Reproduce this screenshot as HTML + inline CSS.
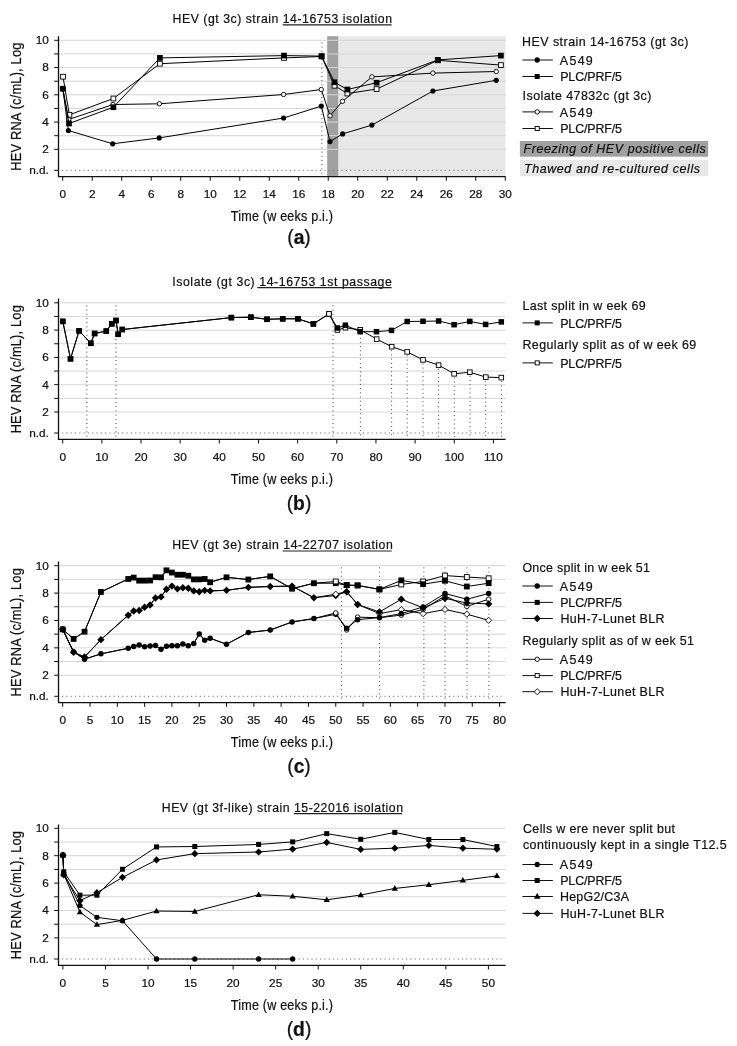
<!DOCTYPE html><html><head><meta charset="utf-8"><style>html,body{margin:0;padding:0;background:#fff;width:737px;height:1046px;overflow:hidden}svg{display:block;will-change:transform}text{font-family:"Liberation Sans", sans-serif;fill:#111;stroke:#111;stroke-width:0.22px}</style></head><body>
<svg width="737" height="1046" viewBox="0 0 737 1046">
<rect x="338.2" y="36.2" width="167.40000000000003" height="140.35000000000002" fill="#e8e8e8"/>
<rect x="327.2" y="36.2" width="11" height="140.35000000000002" fill="#a0a0a0"/>
<line x1="59.2" y1="149.3" x2="505.6" y2="149.3" stroke="#d6d6d6" stroke-width="1"/>
<line x1="59.2" y1="135.68" x2="505.6" y2="135.68" stroke="#d6d6d6" stroke-width="1"/>
<line x1="59.2" y1="122.05" x2="505.6" y2="122.05" stroke="#d6d6d6" stroke-width="1"/>
<line x1="59.2" y1="108.43" x2="505.6" y2="108.43" stroke="#d6d6d6" stroke-width="1"/>
<line x1="59.2" y1="94.8" x2="505.6" y2="94.8" stroke="#d6d6d6" stroke-width="1"/>
<line x1="59.2" y1="81.18" x2="505.6" y2="81.18" stroke="#d6d6d6" stroke-width="1"/>
<line x1="59.2" y1="67.55" x2="505.6" y2="67.55" stroke="#d6d6d6" stroke-width="1"/>
<line x1="59.2" y1="53.93" x2="505.6" y2="53.93" stroke="#d6d6d6" stroke-width="1"/>
<line x1="59.2" y1="40.3" x2="505.6" y2="40.3" stroke="#d6d6d6" stroke-width="1"/>
<line x1="321.9" y1="42.4" x2="321.9" y2="176" stroke="#4a4a4a" stroke-width="1" stroke-dasharray="1 3.2"/>
<path d="M63 76.7 L69.4 114.8 L113.4 98.5 L159.9 63.7 L284 57.9 L321.6 56.5 L334.5 85.7 L347.4 93.5 L376.6 89.1 L437.8 60.3 L500.9 65.1" fill="none" stroke="#000" stroke-width="1.0" stroke-linejoin="round"/>
<rect x="60.6" y="74.3" width="4.8" height="4.8" fill="#fff" stroke="#000" stroke-width="0.9"/>
<rect x="67" y="112.4" width="4.8" height="4.8" fill="#fff" stroke="#000" stroke-width="0.9"/>
<rect x="111" y="96.1" width="4.8" height="4.8" fill="#fff" stroke="#000" stroke-width="0.9"/>
<rect x="157.5" y="61.3" width="4.8" height="4.8" fill="#fff" stroke="#000" stroke-width="0.9"/>
<rect x="281.6" y="55.5" width="4.8" height="4.8" fill="#fff" stroke="#000" stroke-width="0.9"/>
<rect x="319.2" y="54.1" width="4.8" height="4.8" fill="#fff" stroke="#000" stroke-width="0.9"/>
<rect x="332.1" y="83.3" width="4.8" height="4.8" fill="#fff" stroke="#000" stroke-width="0.9"/>
<rect x="345" y="91.1" width="4.8" height="4.8" fill="#fff" stroke="#000" stroke-width="0.9"/>
<rect x="374.2" y="86.7" width="4.8" height="4.8" fill="#fff" stroke="#000" stroke-width="0.9"/>
<rect x="435.4" y="57.9" width="4.8" height="4.8" fill="#fff" stroke="#000" stroke-width="0.9"/>
<rect x="498.5" y="62.7" width="4.8" height="4.8" fill="#fff" stroke="#000" stroke-width="0.9"/>
<path d="M62.8 88.7 L68.7 119.5 L113 104.5 L159.4 103.8 L283.6 94.5 L321.3 89.5 L330 115.8 L342.5 101.3 L371.9 76.9 L432.9 73.1 L496.2 71.5" fill="none" stroke="#000" stroke-width="1.0" stroke-linejoin="round"/>
<circle cx="62.8" cy="88.7" r="2.2" fill="#fff" stroke="#000" stroke-width="0.9"/>
<circle cx="68.7" cy="119.5" r="2.2" fill="#fff" stroke="#000" stroke-width="0.9"/>
<circle cx="113" cy="104.5" r="2.2" fill="#fff" stroke="#000" stroke-width="0.9"/>
<circle cx="159.4" cy="103.8" r="2.2" fill="#fff" stroke="#000" stroke-width="0.9"/>
<circle cx="283.6" cy="94.5" r="2.2" fill="#fff" stroke="#000" stroke-width="0.9"/>
<circle cx="321.3" cy="89.5" r="2.2" fill="#fff" stroke="#000" stroke-width="0.9"/>
<circle cx="330" cy="115.8" r="2.2" fill="#fff" stroke="#000" stroke-width="0.9"/>
<circle cx="342.5" cy="101.3" r="2.2" fill="#fff" stroke="#000" stroke-width="0.9"/>
<circle cx="371.9" cy="76.9" r="2.2" fill="#fff" stroke="#000" stroke-width="0.9"/>
<circle cx="432.9" cy="73.1" r="2.2" fill="#fff" stroke="#000" stroke-width="0.9"/>
<circle cx="496.2" cy="71.5" r="2.2" fill="#fff" stroke="#000" stroke-width="0.9"/>
<path d="M62.8 88.7 L68.4 130.5 L112.7 143.8 L159.2 137.9 L283.6 118 L321.3 106.1 L330 141.6 L342.6 133.9 L371.9 125.1 L432.9 91 L496.2 80.3" fill="none" stroke="#000" stroke-width="1.0" stroke-linejoin="round"/>
<circle cx="62.8" cy="88.7" r="2.6" fill="#000"/>
<circle cx="68.4" cy="130.5" r="2.6" fill="#000"/>
<circle cx="112.7" cy="143.8" r="2.6" fill="#000"/>
<circle cx="159.2" cy="137.9" r="2.6" fill="#000"/>
<circle cx="283.6" cy="118" r="2.6" fill="#000"/>
<circle cx="321.3" cy="106.1" r="2.6" fill="#000"/>
<circle cx="330" cy="141.6" r="2.6" fill="#000"/>
<circle cx="342.6" cy="133.9" r="2.6" fill="#000"/>
<circle cx="371.9" cy="125.1" r="2.6" fill="#000"/>
<circle cx="432.9" cy="91" r="2.6" fill="#000"/>
<circle cx="496.2" cy="80.3" r="2.6" fill="#000"/>
<path d="M62.8 88.7 L69 123.5 L113.4 107.2 L159.9 57.9 L284 55.6 L321.6 56.1 L334.5 82.3 L347.4 89.5 L376.6 82.7 L437.8 59.9 L500.9 55.6" fill="none" stroke="#000" stroke-width="1.0" stroke-linejoin="round"/>
<rect x="59.95" y="85.85" width="5.7" height="5.7" fill="#000"/>
<rect x="66.15" y="120.65" width="5.7" height="5.7" fill="#000"/>
<rect x="110.55" y="104.35" width="5.7" height="5.7" fill="#000"/>
<rect x="157.05" y="55.05" width="5.7" height="5.7" fill="#000"/>
<rect x="281.15" y="52.75" width="5.7" height="5.7" fill="#000"/>
<rect x="318.75" y="53.25" width="5.7" height="5.7" fill="#000"/>
<rect x="331.65" y="79.45" width="5.7" height="5.7" fill="#000"/>
<rect x="344.55" y="86.65" width="5.7" height="5.7" fill="#000"/>
<rect x="373.75" y="79.85" width="5.7" height="5.7" fill="#000"/>
<rect x="434.95" y="57.05" width="5.7" height="5.7" fill="#000"/>
<rect x="498.05" y="52.75" width="5.7" height="5.7" fill="#000"/>
<line x1="62.0" y1="170.28" x2="501.6" y2="170.28" stroke="#777" stroke-width="1" stroke-dasharray="1.2 3.1"/>
<path d="M58.5 36.2 V176.55 H505.6" fill="none" stroke="#111" stroke-width="1.3"/>
<line x1="54.2" y1="149.3" x2="58.5" y2="149.3" stroke="#111" stroke-width="1"/>
<line x1="54.2" y1="135.68" x2="58.5" y2="135.68" stroke="#111" stroke-width="1"/>
<line x1="54.2" y1="122.05" x2="58.5" y2="122.05" stroke="#111" stroke-width="1"/>
<line x1="54.2" y1="108.43" x2="58.5" y2="108.43" stroke="#111" stroke-width="1"/>
<line x1="54.2" y1="94.8" x2="58.5" y2="94.8" stroke="#111" stroke-width="1"/>
<line x1="54.2" y1="81.18" x2="58.5" y2="81.18" stroke="#111" stroke-width="1"/>
<line x1="54.2" y1="67.55" x2="58.5" y2="67.55" stroke="#111" stroke-width="1"/>
<line x1="54.2" y1="53.93" x2="58.5" y2="53.93" stroke="#111" stroke-width="1"/>
<line x1="54.2" y1="40.3" x2="58.5" y2="40.3" stroke="#111" stroke-width="1"/>
<line x1="54.2" y1="170.28" x2="58.5" y2="170.28" stroke="#111" stroke-width="1"/>
<text x="48.9" y="44.1" text-anchor="end" font-size="11.8">10</text>
<text x="48.9" y="71.35" text-anchor="end" font-size="11.8">8</text>
<text x="48.9" y="98.6" text-anchor="end" font-size="11.8">6</text>
<text x="48.9" y="125.85" text-anchor="end" font-size="11.8">4</text>
<text x="48.9" y="153.1" text-anchor="end" font-size="11.8">2</text>
<text x="48.9" y="174.08" text-anchor="end" font-size="11.8">n.d.</text>
<line x1="62.7" y1="176.55" x2="62.7" y2="180.75" stroke="#111" stroke-width="1"/>
<text x="62.7" y="197.85" text-anchor="middle" font-size="11.8">0</text>
<line x1="92.21" y1="176.55" x2="92.21" y2="180.75" stroke="#111" stroke-width="1"/>
<text x="92.21" y="197.85" text-anchor="middle" font-size="11.8">2</text>
<line x1="121.71" y1="176.55" x2="121.71" y2="180.75" stroke="#111" stroke-width="1"/>
<text x="121.71" y="197.85" text-anchor="middle" font-size="11.8">4</text>
<line x1="151.22" y1="176.55" x2="151.22" y2="180.75" stroke="#111" stroke-width="1"/>
<text x="151.22" y="197.85" text-anchor="middle" font-size="11.8">6</text>
<line x1="180.72" y1="176.55" x2="180.72" y2="180.75" stroke="#111" stroke-width="1"/>
<text x="180.72" y="197.85" text-anchor="middle" font-size="11.8">8</text>
<line x1="210.23" y1="176.55" x2="210.23" y2="180.75" stroke="#111" stroke-width="1"/>
<text x="210.23" y="197.85" text-anchor="middle" font-size="11.8">10</text>
<line x1="239.74" y1="176.55" x2="239.74" y2="180.75" stroke="#111" stroke-width="1"/>
<text x="239.74" y="197.85" text-anchor="middle" font-size="11.8">12</text>
<line x1="269.24" y1="176.55" x2="269.24" y2="180.75" stroke="#111" stroke-width="1"/>
<text x="269.24" y="197.85" text-anchor="middle" font-size="11.8">14</text>
<line x1="298.75" y1="176.55" x2="298.75" y2="180.75" stroke="#111" stroke-width="1"/>
<text x="298.75" y="197.85" text-anchor="middle" font-size="11.8">16</text>
<line x1="328.25" y1="176.55" x2="328.25" y2="180.75" stroke="#111" stroke-width="1"/>
<text x="328.25" y="197.85" text-anchor="middle" font-size="11.8">18</text>
<line x1="357.76" y1="176.55" x2="357.76" y2="180.75" stroke="#111" stroke-width="1"/>
<text x="357.76" y="197.85" text-anchor="middle" font-size="11.8">20</text>
<line x1="387.27" y1="176.55" x2="387.27" y2="180.75" stroke="#111" stroke-width="1"/>
<text x="387.27" y="197.85" text-anchor="middle" font-size="11.8">22</text>
<line x1="416.77" y1="176.55" x2="416.77" y2="180.75" stroke="#111" stroke-width="1"/>
<text x="416.77" y="197.85" text-anchor="middle" font-size="11.8">24</text>
<line x1="446.28" y1="176.55" x2="446.28" y2="180.75" stroke="#111" stroke-width="1"/>
<text x="446.28" y="197.85" text-anchor="middle" font-size="11.8">26</text>
<line x1="475.78" y1="176.55" x2="475.78" y2="180.75" stroke="#111" stroke-width="1"/>
<text x="475.78" y="197.85" text-anchor="middle" font-size="11.8">28</text>
<line x1="505.29" y1="176.55" x2="505.29" y2="180.75" stroke="#111" stroke-width="1"/>
<text x="505.29" y="197.85" text-anchor="middle" font-size="11.8">30</text>
<text transform="translate(20.8 170.78) rotate(-90) scale(0.9 1)" font-size="14.3" textLength="142.44" lengthAdjust="spacing">HEV RNA (c/mL), Log</text>
<text transform="translate(230.8 221.4) scale(0.9 1)" font-size="14.0" textLength="113.56" lengthAdjust="spacing">Time (w eeks p.i.)</text>
<text transform="translate(172.6 22.8) scale(0.93 1)" font-size="13.2" textLength="235.91" lengthAdjust="spacing">HEV (gt 3c) strain 14-16753 isolation</text>
<line x1="282.7" y1="24.9" x2="391.6" y2="24.9" stroke="#222" stroke-width="1.15"/>
<text x="299" y="243.85" text-anchor="middle" font-size="19.3">(<tspan font-weight="bold">a</tspan>)</text>
<text transform="translate(522 46.2) scale(0.93 1)" font-size="13.4" textLength="178.92" lengthAdjust="spacing">HEV strain 14-16753 (gt 3c)</text>
<line x1="522.4" y1="60" x2="552.8" y2="60" stroke="#111" stroke-width="1"/>
<circle cx="537.2" cy="60" r="2.65" fill="#000"/>
<text transform="translate(559.8 64.6) scale(0.93 1)" font-size="13.4" textLength="35.48" lengthAdjust="spacing">A549</text>
<line x1="522.4" y1="76.5" x2="552.8" y2="76.5" stroke="#111" stroke-width="1"/>
<rect x="534.7" y="74" width="5" height="5" fill="#000"/>
<text transform="translate(560.2 81.1) scale(0.93 1)" font-size="13.4" textLength="66.45" lengthAdjust="spacing">PLC/PRF/5</text>
<text transform="translate(522.6 100) scale(0.93 1)" font-size="13.4" textLength="138.49" lengthAdjust="spacing">Isolate 47832c (gt 3c)</text>
<line x1="522.4" y1="111.9" x2="552.8" y2="111.9" stroke="#111" stroke-width="1"/>
<circle cx="537.2" cy="111.9" r="2.2" fill="#fff" stroke="#000" stroke-width="0.9"/>
<text transform="translate(559.8 116.5) scale(0.93 1)" font-size="13.4" textLength="35.48" lengthAdjust="spacing">A549</text>
<line x1="522.4" y1="128.5" x2="552.8" y2="128.5" stroke="#111" stroke-width="1"/>
<rect x="535.15" y="126.45" width="4.1" height="4.1" fill="#fff" stroke="#000" stroke-width="0.9"/>
<text transform="translate(560.2 133.1) scale(0.93 1)" font-size="13.4" textLength="66.45" lengthAdjust="spacing">PLC/PRF/5</text>
<rect x="519.9" y="141" width="188.3" height="15.7" fill="#a0a0a0"/>
<rect x="519.9" y="160" width="188.3" height="16.2" fill="#e8e8e8"/>
<text transform="translate(523.6 152.9) scale(0.93 1)" font-size="13.4" textLength="195.91" lengthAdjust="spacing" font-style="italic">Freezing of HEV positive cells</text>
<text transform="translate(524 173) scale(0.93 1)" font-size="13.4" textLength="189.25" lengthAdjust="spacing" font-style="italic">Thawed and re-cultured cells</text>
<line x1="59.2" y1="412" x2="505.6" y2="412" stroke="#d6d6d6" stroke-width="1"/>
<line x1="59.2" y1="398.35" x2="505.6" y2="398.35" stroke="#d6d6d6" stroke-width="1"/>
<line x1="59.2" y1="384.7" x2="505.6" y2="384.7" stroke="#d6d6d6" stroke-width="1"/>
<line x1="59.2" y1="371.05" x2="505.6" y2="371.05" stroke="#d6d6d6" stroke-width="1"/>
<line x1="59.2" y1="357.4" x2="505.6" y2="357.4" stroke="#d6d6d6" stroke-width="1"/>
<line x1="59.2" y1="343.75" x2="505.6" y2="343.75" stroke="#d6d6d6" stroke-width="1"/>
<line x1="59.2" y1="330.1" x2="505.6" y2="330.1" stroke="#d6d6d6" stroke-width="1"/>
<line x1="59.2" y1="316.45" x2="505.6" y2="316.45" stroke="#d6d6d6" stroke-width="1"/>
<line x1="59.2" y1="302.8" x2="505.6" y2="302.8" stroke="#d6d6d6" stroke-width="1"/>
<line x1="86.9" y1="305.4" x2="86.9" y2="438.6" stroke="#4a4a4a" stroke-width="1" stroke-dasharray="1 3.2"/>
<line x1="116.0" y1="305.4" x2="116.0" y2="438.6" stroke="#4a4a4a" stroke-width="1" stroke-dasharray="1 3.2"/>
<line x1="333.0" y1="305.4" x2="333.0" y2="438.6" stroke="#4a4a4a" stroke-width="1" stroke-dasharray="1 3.2"/>
<line x1="360.4" y1="333.5" x2="360.4" y2="438.6" stroke="#4a4a4a" stroke-width="1" stroke-dasharray="1 3.2"/>
<line x1="391.6" y1="350.2" x2="391.6" y2="438.6" stroke="#4a4a4a" stroke-width="1" stroke-dasharray="1 3.2"/>
<line x1="407.2" y1="355.3" x2="407.2" y2="438.6" stroke="#4a4a4a" stroke-width="1" stroke-dasharray="1 3.2"/>
<line x1="423.0" y1="363.4" x2="423.0" y2="438.6" stroke="#4a4a4a" stroke-width="1" stroke-dasharray="1 3.2"/>
<line x1="438.6" y1="368.6" x2="438.6" y2="438.6" stroke="#4a4a4a" stroke-width="1" stroke-dasharray="1 3.2"/>
<line x1="454.3" y1="377.3" x2="454.3" y2="438.6" stroke="#4a4a4a" stroke-width="1" stroke-dasharray="1 3.2"/>
<line x1="470.0" y1="375.7" x2="470.0" y2="438.6" stroke="#4a4a4a" stroke-width="1" stroke-dasharray="1 3.2"/>
<line x1="485.7" y1="380.6" x2="485.7" y2="438.6" stroke="#4a4a4a" stroke-width="1" stroke-dasharray="1 3.2"/>
<line x1="501.4" y1="381.1" x2="501.4" y2="438.6" stroke="#4a4a4a" stroke-width="1" stroke-dasharray="1 3.2"/>
<path d="M62.8 321.4 L70.5 358.8 L79.1 330.8 L90.8 343.3 L94.6 333.5 L106.3 331.1 L111.8 323.8 L116 320.5 L118.2 334.3 L122.3 329.5 L231.4 317.6 L250.9 317.2 L267 319.3 L282.7 318.8 L297.9 318.8 L313.4 323.9 L329 313.9 L337.4 330 L345.4 327.7 L360.2 329.8 L376.7 339.1 L391.7 346.7 L407.2 351.9 L423 359.9 L438.6 365.1 L454.1 373.8 L469.8 372.2 L485.8 377.1 L501.3 377.6" fill="none" stroke="#000" stroke-width="1.0" stroke-linejoin="round"/>
<rect x="60.5" y="319.1" width="4.6" height="4.6" fill="#fff" stroke="#000" stroke-width="0.9"/>
<rect x="68.2" y="356.5" width="4.6" height="4.6" fill="#fff" stroke="#000" stroke-width="0.9"/>
<rect x="76.8" y="328.5" width="4.6" height="4.6" fill="#fff" stroke="#000" stroke-width="0.9"/>
<rect x="88.5" y="341" width="4.6" height="4.6" fill="#fff" stroke="#000" stroke-width="0.9"/>
<rect x="92.3" y="331.2" width="4.6" height="4.6" fill="#fff" stroke="#000" stroke-width="0.9"/>
<rect x="104" y="328.8" width="4.6" height="4.6" fill="#fff" stroke="#000" stroke-width="0.9"/>
<rect x="109.5" y="321.5" width="4.6" height="4.6" fill="#fff" stroke="#000" stroke-width="0.9"/>
<rect x="113.7" y="318.2" width="4.6" height="4.6" fill="#fff" stroke="#000" stroke-width="0.9"/>
<rect x="115.9" y="332" width="4.6" height="4.6" fill="#fff" stroke="#000" stroke-width="0.9"/>
<rect x="120" y="327.2" width="4.6" height="4.6" fill="#fff" stroke="#000" stroke-width="0.9"/>
<rect x="229.1" y="315.3" width="4.6" height="4.6" fill="#fff" stroke="#000" stroke-width="0.9"/>
<rect x="248.6" y="314.9" width="4.6" height="4.6" fill="#fff" stroke="#000" stroke-width="0.9"/>
<rect x="264.7" y="317" width="4.6" height="4.6" fill="#fff" stroke="#000" stroke-width="0.9"/>
<rect x="280.4" y="316.5" width="4.6" height="4.6" fill="#fff" stroke="#000" stroke-width="0.9"/>
<rect x="295.6" y="316.5" width="4.6" height="4.6" fill="#fff" stroke="#000" stroke-width="0.9"/>
<rect x="311.1" y="321.6" width="4.6" height="4.6" fill="#fff" stroke="#000" stroke-width="0.9"/>
<rect x="326.7" y="311.6" width="4.6" height="4.6" fill="#fff" stroke="#000" stroke-width="0.9"/>
<rect x="335.1" y="327.7" width="4.6" height="4.6" fill="#fff" stroke="#000" stroke-width="0.9"/>
<rect x="343.1" y="325.4" width="4.6" height="4.6" fill="#fff" stroke="#000" stroke-width="0.9"/>
<rect x="357.9" y="327.5" width="4.6" height="4.6" fill="#fff" stroke="#000" stroke-width="0.9"/>
<rect x="374.4" y="336.8" width="4.6" height="4.6" fill="#fff" stroke="#000" stroke-width="0.9"/>
<rect x="389.4" y="344.4" width="4.6" height="4.6" fill="#fff" stroke="#000" stroke-width="0.9"/>
<rect x="404.9" y="349.6" width="4.6" height="4.6" fill="#fff" stroke="#000" stroke-width="0.9"/>
<rect x="420.7" y="357.6" width="4.6" height="4.6" fill="#fff" stroke="#000" stroke-width="0.9"/>
<rect x="436.3" y="362.8" width="4.6" height="4.6" fill="#fff" stroke="#000" stroke-width="0.9"/>
<rect x="451.8" y="371.5" width="4.6" height="4.6" fill="#fff" stroke="#000" stroke-width="0.9"/>
<rect x="467.5" y="369.9" width="4.6" height="4.6" fill="#fff" stroke="#000" stroke-width="0.9"/>
<rect x="483.5" y="374.8" width="4.6" height="4.6" fill="#fff" stroke="#000" stroke-width="0.9"/>
<rect x="499" y="375.3" width="4.6" height="4.6" fill="#fff" stroke="#000" stroke-width="0.9"/>
<path d="M62.8 321.4 L70.5 358.8 L79.1 330.8 L90.8 343.3 L94.6 333.5 L106.3 331.1 L111.8 323.8 L116 320.5 L118.2 334.3 L122.3 329.5 L231.4 317.6 L250.9 317.2 L267 319.3 L282.7 318.8 L297.9 318.8 L313.4 323.9 L329 313.9 L337.4 328 L345.4 325.2 L360.2 331.7 L376.5 331.7 L391.5 330.4 L407.2 321.5 L423 321.3 L438.6 321 L454.1 324.7 L469.8 321.4 L485.6 324.4 L501.3 321.9" fill="none" stroke="#000" stroke-width="1.0" stroke-linejoin="round"/>
<rect x="60.05" y="318.65" width="5.5" height="5.5" fill="#000"/>
<rect x="67.75" y="356.05" width="5.5" height="5.5" fill="#000"/>
<rect x="76.35" y="328.05" width="5.5" height="5.5" fill="#000"/>
<rect x="88.05" y="340.55" width="5.5" height="5.5" fill="#000"/>
<rect x="91.85" y="330.75" width="5.5" height="5.5" fill="#000"/>
<rect x="103.55" y="328.35" width="5.5" height="5.5" fill="#000"/>
<rect x="109.05" y="321.05" width="5.5" height="5.5" fill="#000"/>
<rect x="113.25" y="317.75" width="5.5" height="5.5" fill="#000"/>
<rect x="115.45" y="331.55" width="5.5" height="5.5" fill="#000"/>
<rect x="119.55" y="326.75" width="5.5" height="5.5" fill="#000"/>
<rect x="228.65" y="314.85" width="5.5" height="5.5" fill="#000"/>
<rect x="248.15" y="314.45" width="5.5" height="5.5" fill="#000"/>
<rect x="264.25" y="316.55" width="5.5" height="5.5" fill="#000"/>
<rect x="279.95" y="316.05" width="5.5" height="5.5" fill="#000"/>
<rect x="295.15" y="316.05" width="5.5" height="5.5" fill="#000"/>
<rect x="310.65" y="321.15" width="5.5" height="5.5" fill="#000"/>
<rect x="334.65" y="325.25" width="5.5" height="5.5" fill="#000"/>
<rect x="342.65" y="322.45" width="5.5" height="5.5" fill="#000"/>
<rect x="357.45" y="328.95" width="5.5" height="5.5" fill="#000"/>
<rect x="373.75" y="328.95" width="5.5" height="5.5" fill="#000"/>
<rect x="388.75" y="327.65" width="5.5" height="5.5" fill="#000"/>
<rect x="404.45" y="318.75" width="5.5" height="5.5" fill="#000"/>
<rect x="420.25" y="318.55" width="5.5" height="5.5" fill="#000"/>
<rect x="435.85" y="318.25" width="5.5" height="5.5" fill="#000"/>
<rect x="451.35" y="321.95" width="5.5" height="5.5" fill="#000"/>
<rect x="467.05" y="318.65" width="5.5" height="5.5" fill="#000"/>
<rect x="482.85" y="321.65" width="5.5" height="5.5" fill="#000"/>
<rect x="498.55" y="319.15" width="5.5" height="5.5" fill="#000"/>
<rect x="326.7" y="311.6" width="4.6" height="4.6" fill="#fff" stroke="#000" stroke-width="0.9"/>
<line x1="62.0" y1="433.02" x2="501.6" y2="433.02" stroke="#777" stroke-width="1" stroke-dasharray="1.2 3.1"/>
<path d="M58.5 298.6 V439.3 H505.6" fill="none" stroke="#111" stroke-width="1.3"/>
<line x1="54.2" y1="412" x2="58.5" y2="412" stroke="#111" stroke-width="1"/>
<line x1="54.2" y1="398.35" x2="58.5" y2="398.35" stroke="#111" stroke-width="1"/>
<line x1="54.2" y1="384.7" x2="58.5" y2="384.7" stroke="#111" stroke-width="1"/>
<line x1="54.2" y1="371.05" x2="58.5" y2="371.05" stroke="#111" stroke-width="1"/>
<line x1="54.2" y1="357.4" x2="58.5" y2="357.4" stroke="#111" stroke-width="1"/>
<line x1="54.2" y1="343.75" x2="58.5" y2="343.75" stroke="#111" stroke-width="1"/>
<line x1="54.2" y1="330.1" x2="58.5" y2="330.1" stroke="#111" stroke-width="1"/>
<line x1="54.2" y1="316.45" x2="58.5" y2="316.45" stroke="#111" stroke-width="1"/>
<line x1="54.2" y1="302.8" x2="58.5" y2="302.8" stroke="#111" stroke-width="1"/>
<line x1="54.2" y1="433.02" x2="58.5" y2="433.02" stroke="#111" stroke-width="1"/>
<text x="48.9" y="306.6" text-anchor="end" font-size="11.8">10</text>
<text x="48.9" y="333.9" text-anchor="end" font-size="11.8">8</text>
<text x="48.9" y="361.2" text-anchor="end" font-size="11.8">6</text>
<text x="48.9" y="388.5" text-anchor="end" font-size="11.8">4</text>
<text x="48.9" y="415.8" text-anchor="end" font-size="11.8">2</text>
<text x="48.9" y="436.82" text-anchor="end" font-size="11.8">n.d.</text>
<line x1="62.7" y1="439.3" x2="62.7" y2="443.5" stroke="#111" stroke-width="1"/>
<text x="62.7" y="460.6" text-anchor="middle" font-size="11.8">0</text>
<line x1="101.86" y1="439.3" x2="101.86" y2="443.5" stroke="#111" stroke-width="1"/>
<text x="101.86" y="460.6" text-anchor="middle" font-size="11.8">10</text>
<line x1="141.01" y1="439.3" x2="141.01" y2="443.5" stroke="#111" stroke-width="1"/>
<text x="141.01" y="460.6" text-anchor="middle" font-size="11.8">20</text>
<line x1="180.17" y1="439.3" x2="180.17" y2="443.5" stroke="#111" stroke-width="1"/>
<text x="180.17" y="460.6" text-anchor="middle" font-size="11.8">30</text>
<line x1="219.32" y1="439.3" x2="219.32" y2="443.5" stroke="#111" stroke-width="1"/>
<text x="219.32" y="460.6" text-anchor="middle" font-size="11.8">40</text>
<line x1="258.48" y1="439.3" x2="258.48" y2="443.5" stroke="#111" stroke-width="1"/>
<text x="258.48" y="460.6" text-anchor="middle" font-size="11.8">50</text>
<line x1="297.63" y1="439.3" x2="297.63" y2="443.5" stroke="#111" stroke-width="1"/>
<text x="297.63" y="460.6" text-anchor="middle" font-size="11.8">60</text>
<line x1="336.79" y1="439.3" x2="336.79" y2="443.5" stroke="#111" stroke-width="1"/>
<text x="336.79" y="460.6" text-anchor="middle" font-size="11.8">70</text>
<line x1="375.94" y1="439.3" x2="375.94" y2="443.5" stroke="#111" stroke-width="1"/>
<text x="375.94" y="460.6" text-anchor="middle" font-size="11.8">80</text>
<line x1="415.1" y1="439.3" x2="415.1" y2="443.5" stroke="#111" stroke-width="1"/>
<text x="415.1" y="460.6" text-anchor="middle" font-size="11.8">90</text>
<line x1="454.25" y1="439.3" x2="454.25" y2="443.5" stroke="#111" stroke-width="1"/>
<text x="454.25" y="460.6" text-anchor="middle" font-size="11.8">100</text>
<line x1="493.41" y1="439.3" x2="493.41" y2="443.5" stroke="#111" stroke-width="1"/>
<text x="493.41" y="460.6" text-anchor="middle" font-size="11.8">110</text>
<text transform="translate(20.8 433.35) rotate(-90) scale(0.9 1)" font-size="14.3" textLength="142.44" lengthAdjust="spacing">HEV RNA (c/mL), Log</text>
<text transform="translate(230.8 484.15) scale(0.9 1)" font-size="14.0" textLength="113.56" lengthAdjust="spacing">Time (w eeks p.i.)</text>
<text transform="translate(172.2 285.55) scale(0.93 1)" font-size="13.2" textLength="236.13" lengthAdjust="spacing">Isolate (gt 3c) 14-16753 1st passage</text>
<line x1="257.3" y1="287.65" x2="391.6" y2="287.65" stroke="#222" stroke-width="1.15"/>
<text x="299" y="509.8" text-anchor="middle" font-size="19.3">(<tspan font-weight="bold">b</tspan>)</text>
<text transform="translate(522.4 309.5) scale(0.93 1)" font-size="13.4" textLength="132.47" lengthAdjust="spacing">Last split in w eek 69</text>
<line x1="522.4" y1="322.9" x2="552.8" y2="322.9" stroke="#111" stroke-width="1"/>
<rect x="534.7" y="320.4" width="5" height="5" fill="#000"/>
<text transform="translate(560.2 327.5) scale(0.93 1)" font-size="13.4" textLength="66.45" lengthAdjust="spacing">PLC/PRF/5</text>
<text transform="translate(522.4 349) scale(0.93 1)" font-size="13.4" textLength="186.88" lengthAdjust="spacing">Regularly split as of w eek 69</text>
<line x1="522.4" y1="362.9" x2="552.8" y2="362.9" stroke="#111" stroke-width="1"/>
<rect x="535.15" y="360.85" width="4.1" height="4.1" fill="#fff" stroke="#000" stroke-width="0.9"/>
<text transform="translate(560.2 367.5) scale(0.93 1)" font-size="13.4" textLength="66.45" lengthAdjust="spacing">PLC/PRF/5</text>
<line x1="59.2" y1="675.22" x2="505.6" y2="675.22" stroke="#d6d6d6" stroke-width="1"/>
<line x1="59.2" y1="661.53" x2="505.6" y2="661.53" stroke="#d6d6d6" stroke-width="1"/>
<line x1="59.2" y1="647.84" x2="505.6" y2="647.84" stroke="#d6d6d6" stroke-width="1"/>
<line x1="59.2" y1="634.15" x2="505.6" y2="634.15" stroke="#d6d6d6" stroke-width="1"/>
<line x1="59.2" y1="620.46" x2="505.6" y2="620.46" stroke="#d6d6d6" stroke-width="1"/>
<line x1="59.2" y1="606.77" x2="505.6" y2="606.77" stroke="#d6d6d6" stroke-width="1"/>
<line x1="59.2" y1="593.08" x2="505.6" y2="593.08" stroke="#d6d6d6" stroke-width="1"/>
<line x1="59.2" y1="579.39" x2="505.6" y2="579.39" stroke="#d6d6d6" stroke-width="1"/>
<line x1="59.2" y1="565.7" x2="505.6" y2="565.7" stroke="#d6d6d6" stroke-width="1"/>
<line x1="341.4" y1="567.4" x2="341.4" y2="701.8" stroke="#4a4a4a" stroke-width="1" stroke-dasharray="1 3.2"/>
<line x1="379.6" y1="567.4" x2="379.6" y2="701.8" stroke="#4a4a4a" stroke-width="1" stroke-dasharray="1 3.2"/>
<line x1="423.9" y1="567.4" x2="423.9" y2="701.8" stroke="#4a4a4a" stroke-width="1" stroke-dasharray="1 3.2"/>
<line x1="445.0" y1="567.4" x2="445.0" y2="701.8" stroke="#4a4a4a" stroke-width="1" stroke-dasharray="1 3.2"/>
<line x1="467.0" y1="567.4" x2="467.0" y2="701.8" stroke="#4a4a4a" stroke-width="1" stroke-dasharray="1 3.2"/>
<line x1="488.9" y1="567.4" x2="488.9" y2="701.8" stroke="#4a4a4a" stroke-width="1" stroke-dasharray="1 3.2"/>
<path d="M62.7 629.36 L73.62 638.94 L84.54 631.69 L100.93 591.98 L128.23 578.98 L133.69 577.61 L139.15 580.62 L144.62 580.62 L150.08 580.49 L155.54 577.2 L161 577.34 L166.46 570.35 L171.92 572.55 L177.38 574.74 L182.84 574.74 L188.3 575.69 L193.76 579.39 L199.23 579.39 L204.69 578.98 L210.15 582.26 L226.53 577.34 L248.37 579.53 L270.22 576.38 L292.06 588.7 L313.91 583.22 L335.75 581.44 L346.67 585.14 L357.59 585.41 L379.44 589.38 L401.28 584.46 L423.13 581.44 L444.97 575.56 L466.81 577.06 L488.66 578.29" fill="none" stroke="#000" stroke-width="1.0" stroke-linejoin="round"/>
<rect x="344.22" y="582.69" width="4.9" height="4.9" fill="#fff" stroke="#000" stroke-width="0.9"/>
<rect x="355.14" y="582.96" width="4.9" height="4.9" fill="#fff" stroke="#000" stroke-width="0.9"/>
<rect x="376.99" y="586.93" width="4.9" height="4.9" fill="#fff" stroke="#000" stroke-width="0.9"/>
<rect x="398.83" y="582.01" width="4.9" height="4.9" fill="#fff" stroke="#000" stroke-width="0.9"/>
<rect x="420.68" y="578.99" width="4.9" height="4.9" fill="#fff" stroke="#000" stroke-width="0.9"/>
<rect x="442.52" y="573.11" width="4.9" height="4.9" fill="#fff" stroke="#000" stroke-width="0.9"/>
<rect x="464.36" y="574.61" width="4.9" height="4.9" fill="#fff" stroke="#000" stroke-width="0.9"/>
<rect x="486.21" y="575.84" width="4.9" height="4.9" fill="#fff" stroke="#000" stroke-width="0.9"/>
<path d="M62.7 629.36 L73.62 652.22 L84.54 657.01 L100.93 639.63 L128.23 615.26 L133.69 611.01 L139.15 610.47 L144.62 607.18 L150.08 604.99 L155.54 598.01 L161 596.91 L166.46 589.25 L171.92 586.1 L177.38 588.84 L182.84 587.74 L188.3 588.29 L193.76 590.89 L199.23 591.71 L204.69 590.34 L210.15 590.89 L226.53 590.34 L248.37 587.33 L270.22 586.51 L292.06 586.1 L313.91 597.73 L335.75 594.18 L346.67 591.71 L357.59 604.44 L379.44 613.62 L401.28 609.64 L423.13 613.62 L444.97 609.51 L466.81 614.16 L488.66 620.32" fill="none" stroke="#000" stroke-width="1.0" stroke-linejoin="round"/>
<path d="M346.67 588.61L349.77 591.71L346.67 594.81L343.57 591.71Z" fill="#fff" stroke="#000" stroke-width="0.9"/>
<path d="M357.59 601.34L360.69 604.44L357.59 607.54L354.49 604.44Z" fill="#fff" stroke="#000" stroke-width="0.9"/>
<path d="M379.44 610.51L382.54 613.62L379.44 616.72L376.34 613.62Z" fill="#fff" stroke="#000" stroke-width="0.9"/>
<path d="M401.28 606.54L404.38 609.64L401.28 612.74L398.18 609.64Z" fill="#fff" stroke="#000" stroke-width="0.9"/>
<path d="M423.13 610.51L426.23 613.62L423.13 616.72L420.03 613.62Z" fill="#fff" stroke="#000" stroke-width="0.9"/>
<path d="M444.97 606.41L448.07 609.51L444.97 612.61L441.87 609.51Z" fill="#fff" stroke="#000" stroke-width="0.9"/>
<path d="M466.81 611.06L469.91 614.16L466.81 617.26L463.71 614.16Z" fill="#fff" stroke="#000" stroke-width="0.9"/>
<path d="M488.66 617.22L491.76 620.32L488.66 623.42L485.56 620.32Z" fill="#fff" stroke="#000" stroke-width="0.9"/>
<path d="M62.7 629.36 L73.62 651.95 L84.54 659.2 L100.93 653.86 L128.23 648.25 L133.69 646.47 L139.15 645.1 L144.62 646.74 L150.08 645.92 L155.54 645.38 L161 649.35 L166.46 646.2 L171.92 645.79 L177.38 645.79 L182.84 644.01 L188.3 645.79 L193.76 643.6 L199.23 633.88 L204.69 640.31 L210.15 638.26 L226.53 644.28 L248.37 632.51 L270.22 630.04 L292.06 621.97 L313.91 618.54 L335.75 612.93 L346.67 629.91 L357.59 617.17 L379.44 617.72 L401.28 615.12 L423.13 609.51 L444.97 595.82 L466.81 606.36 L488.66 599.24" fill="none" stroke="#000" stroke-width="1.0" stroke-linejoin="round"/>
<circle cx="346.67" cy="629.91" r="2.3" fill="#fff" stroke="#000" stroke-width="0.9"/>
<circle cx="357.59" cy="617.17" r="2.3" fill="#fff" stroke="#000" stroke-width="0.9"/>
<circle cx="379.44" cy="617.72" r="2.3" fill="#fff" stroke="#000" stroke-width="0.9"/>
<circle cx="401.28" cy="615.12" r="2.3" fill="#fff" stroke="#000" stroke-width="0.9"/>
<circle cx="423.13" cy="609.51" r="2.3" fill="#fff" stroke="#000" stroke-width="0.9"/>
<circle cx="444.97" cy="595.82" r="2.3" fill="#fff" stroke="#000" stroke-width="0.9"/>
<circle cx="466.81" cy="606.36" r="2.3" fill="#fff" stroke="#000" stroke-width="0.9"/>
<circle cx="488.66" cy="599.24" r="2.3" fill="#fff" stroke="#000" stroke-width="0.9"/>
<path d="M62.7 629.36 L73.62 638.94 L84.54 631.69 L100.93 591.98 L128.23 578.98 L133.69 577.61 L139.15 580.62 L144.62 580.62 L150.08 580.49 L155.54 577.2 L161 577.34 L166.46 570.35 L171.92 572.55 L177.38 574.74 L182.84 574.74 L188.3 575.69 L193.76 579.39 L199.23 579.39 L204.69 578.98 L210.15 582.26 L226.53 577.34 L248.37 579.53 L270.22 576.38 L292.06 588.7 L313.91 583.22 L335.75 583.22 L346.67 585.14 L357.59 585.41 L379.44 589.38 L401.28 580.35 L423.13 584.18 L444.97 580.76 L466.81 586.51 L488.66 583.22" fill="none" stroke="#000" stroke-width="1.0" stroke-linejoin="round"/>
<rect x="59.8" y="626.46" width="5.8" height="5.8" fill="#000"/>
<rect x="70.72" y="636.04" width="5.8" height="5.8" fill="#000"/>
<rect x="81.64" y="628.79" width="5.8" height="5.8" fill="#000"/>
<rect x="98.03" y="589.08" width="5.8" height="5.8" fill="#000"/>
<rect x="125.33" y="576.08" width="5.8" height="5.8" fill="#000"/>
<rect x="130.79" y="574.71" width="5.8" height="5.8" fill="#000"/>
<rect x="136.25" y="577.72" width="5.8" height="5.8" fill="#000"/>
<rect x="141.72" y="577.72" width="5.8" height="5.8" fill="#000"/>
<rect x="147.18" y="577.59" width="5.8" height="5.8" fill="#000"/>
<rect x="152.64" y="574.3" width="5.8" height="5.8" fill="#000"/>
<rect x="158.1" y="574.44" width="5.8" height="5.8" fill="#000"/>
<rect x="163.56" y="567.45" width="5.8" height="5.8" fill="#000"/>
<rect x="169.02" y="569.65" width="5.8" height="5.8" fill="#000"/>
<rect x="174.48" y="571.84" width="5.8" height="5.8" fill="#000"/>
<rect x="179.94" y="571.84" width="5.8" height="5.8" fill="#000"/>
<rect x="185.4" y="572.79" width="5.8" height="5.8" fill="#000"/>
<rect x="190.86" y="576.49" width="5.8" height="5.8" fill="#000"/>
<rect x="196.33" y="576.49" width="5.8" height="5.8" fill="#000"/>
<rect x="201.79" y="576.08" width="5.8" height="5.8" fill="#000"/>
<rect x="207.25" y="579.36" width="5.8" height="5.8" fill="#000"/>
<rect x="223.63" y="574.44" width="5.8" height="5.8" fill="#000"/>
<rect x="245.47" y="576.63" width="5.8" height="5.8" fill="#000"/>
<rect x="267.32" y="573.48" width="5.8" height="5.8" fill="#000"/>
<rect x="289.16" y="585.8" width="5.8" height="5.8" fill="#000"/>
<rect x="311.01" y="580.32" width="5.8" height="5.8" fill="#000"/>
<rect x="332.85" y="580.32" width="5.8" height="5.8" fill="#000"/>
<rect x="343.77" y="582.24" width="5.8" height="5.8" fill="#000"/>
<rect x="354.69" y="582.51" width="5.8" height="5.8" fill="#000"/>
<rect x="376.54" y="586.48" width="5.8" height="5.8" fill="#000"/>
<rect x="398.38" y="577.45" width="5.8" height="5.8" fill="#000"/>
<rect x="420.23" y="581.28" width="5.8" height="5.8" fill="#000"/>
<rect x="442.07" y="577.86" width="5.8" height="5.8" fill="#000"/>
<rect x="463.91" y="583.61" width="5.8" height="5.8" fill="#000"/>
<rect x="485.76" y="580.32" width="5.8" height="5.8" fill="#000"/>
<path d="M62.7 629.36 L73.62 652.22 L84.54 657.01 L100.93 639.63 L128.23 615.26 L133.69 611.01 L139.15 610.47 L144.62 607.18 L150.08 604.99 L155.54 598.01 L161 596.91 L166.46 589.25 L171.92 586.1 L177.38 588.84 L182.84 587.74 L188.3 588.29 L193.76 590.89 L199.23 591.71 L204.69 590.34 L210.15 590.89 L226.53 590.34 L248.37 587.33 L270.22 586.51 L292.06 586.1 L313.91 597.73 L335.75 595.54 L346.67 591.71 L357.59 604.44 L379.44 611.97 L401.28 599.24 L423.13 607.87 L444.97 598.42 L466.81 602.94 L488.66 603.9" fill="none" stroke="#000" stroke-width="1.0" stroke-linejoin="round"/>
<path d="M62.7 625.66L66.4 629.36L62.7 633.06L59 629.36Z" fill="#000"/>
<path d="M73.62 648.52L77.32 652.22L73.62 655.92L69.92 652.22Z" fill="#000"/>
<path d="M84.54 653.31L88.24 657.01L84.54 660.71L80.84 657.01Z" fill="#000"/>
<path d="M100.93 635.93L104.63 639.63L100.93 643.33L97.23 639.63Z" fill="#000"/>
<path d="M128.23 611.56L131.93 615.26L128.23 618.96L124.53 615.26Z" fill="#000"/>
<path d="M133.69 607.31L137.39 611.01L133.69 614.71L129.99 611.01Z" fill="#000"/>
<path d="M139.15 606.77L142.85 610.47L139.15 614.17L135.45 610.47Z" fill="#000"/>
<path d="M144.62 603.48L148.31 607.18L144.62 610.88L140.92 607.18Z" fill="#000"/>
<path d="M150.08 601.29L153.78 604.99L150.08 608.69L146.38 604.99Z" fill="#000"/>
<path d="M155.54 594.31L159.24 598.01L155.54 601.71L151.84 598.01Z" fill="#000"/>
<path d="M161 593.21L164.7 596.91L161 600.61L157.3 596.91Z" fill="#000"/>
<path d="M166.46 585.55L170.16 589.25L166.46 592.95L162.76 589.25Z" fill="#000"/>
<path d="M171.92 582.4L175.62 586.1L171.92 589.8L168.22 586.1Z" fill="#000"/>
<path d="M177.38 585.14L181.08 588.84L177.38 592.54L173.68 588.84Z" fill="#000"/>
<path d="M182.84 584.04L186.54 587.74L182.84 591.44L179.14 587.74Z" fill="#000"/>
<path d="M188.3 584.59L192 588.29L188.3 591.99L184.6 588.29Z" fill="#000"/>
<path d="M193.76 587.19L197.46 590.89L193.76 594.59L190.06 590.89Z" fill="#000"/>
<path d="M199.23 588.01L202.93 591.71L199.23 595.41L195.53 591.71Z" fill="#000"/>
<path d="M204.69 586.64L208.39 590.34L204.69 594.04L200.99 590.34Z" fill="#000"/>
<path d="M210.15 587.19L213.85 590.89L210.15 594.59L206.45 590.89Z" fill="#000"/>
<path d="M226.53 586.64L230.23 590.34L226.53 594.04L222.83 590.34Z" fill="#000"/>
<path d="M248.37 583.63L252.07 587.33L248.37 591.03L244.67 587.33Z" fill="#000"/>
<path d="M270.22 582.81L273.92 586.51L270.22 590.21L266.52 586.51Z" fill="#000"/>
<path d="M292.06 582.4L295.76 586.1L292.06 589.8L288.36 586.1Z" fill="#000"/>
<path d="M313.91 594.03L317.61 597.73L313.91 601.43L310.21 597.73Z" fill="#000"/>
<path d="M335.75 591.84L339.45 595.54L335.75 599.24L332.05 595.54Z" fill="#000"/>
<path d="M346.67 588.01L350.37 591.71L346.67 595.41L342.97 591.71Z" fill="#000"/>
<path d="M357.59 600.74L361.29 604.44L357.59 608.14L353.89 604.44Z" fill="#000"/>
<path d="M379.44 608.27L383.14 611.97L379.44 615.67L375.74 611.97Z" fill="#000"/>
<path d="M401.28 595.54L404.98 599.24L401.28 602.94L397.58 599.24Z" fill="#000"/>
<path d="M423.13 604.17L426.83 607.87L423.13 611.57L419.43 607.87Z" fill="#000"/>
<path d="M444.97 594.72L448.67 598.42L444.97 602.12L441.27 598.42Z" fill="#000"/>
<path d="M466.81 599.24L470.51 602.94L466.81 606.64L463.11 602.94Z" fill="#000"/>
<path d="M488.66 600.2L492.36 603.9L488.66 607.6L484.96 603.9Z" fill="#000"/>
<path d="M62.7 629.36 L73.62 651.95 L84.54 659.2 L100.93 653.86 L128.23 648.25 L133.69 646.47 L139.15 645.1 L144.62 646.74 L150.08 645.92 L155.54 645.38 L161 649.35 L166.46 646.2 L171.92 645.79 L177.38 645.79 L182.84 644.01 L188.3 645.79 L193.76 643.6 L199.23 633.88 L204.69 640.31 L210.15 638.26 L226.53 644.28 L248.37 632.51 L270.22 630.04 L292.06 621.97 L313.91 618.54 L335.75 614.3 L346.67 628.13 L357.59 619.64 L379.44 617.59 L401.28 613.62 L423.13 606.91 L444.97 593.49 L466.81 599.24 L488.66 593.49" fill="none" stroke="#000" stroke-width="1.0" stroke-linejoin="round"/>
<circle cx="62.7" cy="629.36" r="2.75" fill="#000"/>
<circle cx="73.62" cy="651.95" r="2.75" fill="#000"/>
<circle cx="84.54" cy="659.2" r="2.75" fill="#000"/>
<circle cx="100.93" cy="653.86" r="2.75" fill="#000"/>
<circle cx="128.23" cy="648.25" r="2.75" fill="#000"/>
<circle cx="133.69" cy="646.47" r="2.75" fill="#000"/>
<circle cx="139.15" cy="645.1" r="2.75" fill="#000"/>
<circle cx="144.62" cy="646.74" r="2.75" fill="#000"/>
<circle cx="150.08" cy="645.92" r="2.75" fill="#000"/>
<circle cx="155.54" cy="645.38" r="2.75" fill="#000"/>
<circle cx="161" cy="649.35" r="2.75" fill="#000"/>
<circle cx="166.46" cy="646.2" r="2.75" fill="#000"/>
<circle cx="171.92" cy="645.79" r="2.75" fill="#000"/>
<circle cx="177.38" cy="645.79" r="2.75" fill="#000"/>
<circle cx="182.84" cy="644.01" r="2.75" fill="#000"/>
<circle cx="188.3" cy="645.79" r="2.75" fill="#000"/>
<circle cx="193.76" cy="643.6" r="2.75" fill="#000"/>
<circle cx="199.23" cy="633.88" r="2.75" fill="#000"/>
<circle cx="204.69" cy="640.31" r="2.75" fill="#000"/>
<circle cx="210.15" cy="638.26" r="2.75" fill="#000"/>
<circle cx="226.53" cy="644.28" r="2.75" fill="#000"/>
<circle cx="248.37" cy="632.51" r="2.75" fill="#000"/>
<circle cx="270.22" cy="630.04" r="2.75" fill="#000"/>
<circle cx="292.06" cy="621.97" r="2.75" fill="#000"/>
<circle cx="313.91" cy="618.54" r="2.75" fill="#000"/>
<circle cx="335.75" cy="614.3" r="2.75" fill="#000"/>
<circle cx="346.67" cy="628.13" r="2.75" fill="#000"/>
<circle cx="357.59" cy="619.64" r="2.75" fill="#000"/>
<circle cx="379.44" cy="617.59" r="2.75" fill="#000"/>
<circle cx="401.28" cy="613.62" r="2.75" fill="#000"/>
<circle cx="423.13" cy="606.91" r="2.75" fill="#000"/>
<circle cx="444.97" cy="593.49" r="2.75" fill="#000"/>
<circle cx="466.81" cy="599.24" r="2.75" fill="#000"/>
<circle cx="488.66" cy="593.49" r="2.75" fill="#000"/>
<rect x="333.3" y="578.99" width="4.9" height="4.9" fill="#fff" stroke="#000" stroke-width="0.9"/>
<path d="M335.75 591.08L338.85 594.18L335.75 597.28L332.65 594.18Z" fill="#fff" stroke="#000" stroke-width="0.9"/>
<circle cx="335.75" cy="612.93" r="2.3" fill="#fff" stroke="#000" stroke-width="0.9"/>
<line x1="62.0" y1="696.3" x2="501.6" y2="696.3" stroke="#777" stroke-width="1" stroke-dasharray="1.2 3.1"/>
<path d="M58.5 561.4 V702.6 H505.6" fill="none" stroke="#111" stroke-width="1.3"/>
<line x1="54.2" y1="675.22" x2="58.5" y2="675.22" stroke="#111" stroke-width="1"/>
<line x1="54.2" y1="661.53" x2="58.5" y2="661.53" stroke="#111" stroke-width="1"/>
<line x1="54.2" y1="647.84" x2="58.5" y2="647.84" stroke="#111" stroke-width="1"/>
<line x1="54.2" y1="634.15" x2="58.5" y2="634.15" stroke="#111" stroke-width="1"/>
<line x1="54.2" y1="620.46" x2="58.5" y2="620.46" stroke="#111" stroke-width="1"/>
<line x1="54.2" y1="606.77" x2="58.5" y2="606.77" stroke="#111" stroke-width="1"/>
<line x1="54.2" y1="593.08" x2="58.5" y2="593.08" stroke="#111" stroke-width="1"/>
<line x1="54.2" y1="579.39" x2="58.5" y2="579.39" stroke="#111" stroke-width="1"/>
<line x1="54.2" y1="565.7" x2="58.5" y2="565.7" stroke="#111" stroke-width="1"/>
<line x1="54.2" y1="696.3" x2="58.5" y2="696.3" stroke="#111" stroke-width="1"/>
<text x="48.9" y="569.5" text-anchor="end" font-size="11.8">10</text>
<text x="48.9" y="596.88" text-anchor="end" font-size="11.8">8</text>
<text x="48.9" y="624.26" text-anchor="end" font-size="11.8">6</text>
<text x="48.9" y="651.64" text-anchor="end" font-size="11.8">4</text>
<text x="48.9" y="679.02" text-anchor="end" font-size="11.8">2</text>
<text x="48.9" y="700.1" text-anchor="end" font-size="11.8">n.d.</text>
<line x1="62.7" y1="702.6" x2="62.7" y2="706.8" stroke="#111" stroke-width="1"/>
<text x="62.7" y="723.9" text-anchor="middle" font-size="11.8">0</text>
<line x1="90" y1="702.6" x2="90" y2="706.8" stroke="#111" stroke-width="1"/>
<text x="90" y="723.9" text-anchor="middle" font-size="11.8">5</text>
<line x1="117.31" y1="702.6" x2="117.31" y2="706.8" stroke="#111" stroke-width="1"/>
<text x="117.31" y="723.9" text-anchor="middle" font-size="11.8">10</text>
<line x1="144.62" y1="702.6" x2="144.62" y2="706.8" stroke="#111" stroke-width="1"/>
<text x="144.62" y="723.9" text-anchor="middle" font-size="11.8">15</text>
<line x1="171.92" y1="702.6" x2="171.92" y2="706.8" stroke="#111" stroke-width="1"/>
<text x="171.92" y="723.9" text-anchor="middle" font-size="11.8">20</text>
<line x1="199.23" y1="702.6" x2="199.23" y2="706.8" stroke="#111" stroke-width="1"/>
<text x="199.23" y="723.9" text-anchor="middle" font-size="11.8">25</text>
<line x1="226.53" y1="702.6" x2="226.53" y2="706.8" stroke="#111" stroke-width="1"/>
<text x="226.53" y="723.9" text-anchor="middle" font-size="11.8">30</text>
<line x1="253.84" y1="702.6" x2="253.84" y2="706.8" stroke="#111" stroke-width="1"/>
<text x="253.84" y="723.9" text-anchor="middle" font-size="11.8">35</text>
<line x1="281.14" y1="702.6" x2="281.14" y2="706.8" stroke="#111" stroke-width="1"/>
<text x="281.14" y="723.9" text-anchor="middle" font-size="11.8">40</text>
<line x1="308.44" y1="702.6" x2="308.44" y2="706.8" stroke="#111" stroke-width="1"/>
<text x="308.44" y="723.9" text-anchor="middle" font-size="11.8">45</text>
<line x1="335.75" y1="702.6" x2="335.75" y2="706.8" stroke="#111" stroke-width="1"/>
<text x="335.75" y="723.9" text-anchor="middle" font-size="11.8">50</text>
<line x1="363.06" y1="702.6" x2="363.06" y2="706.8" stroke="#111" stroke-width="1"/>
<text x="363.06" y="723.9" text-anchor="middle" font-size="11.8">55</text>
<line x1="390.36" y1="702.6" x2="390.36" y2="706.8" stroke="#111" stroke-width="1"/>
<text x="390.36" y="723.9" text-anchor="middle" font-size="11.8">60</text>
<line x1="417.67" y1="702.6" x2="417.67" y2="706.8" stroke="#111" stroke-width="1"/>
<text x="417.67" y="723.9" text-anchor="middle" font-size="11.8">65</text>
<line x1="444.97" y1="702.6" x2="444.97" y2="706.8" stroke="#111" stroke-width="1"/>
<text x="444.97" y="723.9" text-anchor="middle" font-size="11.8">70</text>
<line x1="472.28" y1="702.6" x2="472.28" y2="706.8" stroke="#111" stroke-width="1"/>
<text x="472.28" y="723.9" text-anchor="middle" font-size="11.8">75</text>
<line x1="499.58" y1="702.6" x2="499.58" y2="706.8" stroke="#111" stroke-width="1"/>
<text x="499.58" y="723.9" text-anchor="middle" font-size="11.8">80</text>
<text transform="translate(20.8 696.4) rotate(-90) scale(0.9 1)" font-size="14.3" textLength="142.44" lengthAdjust="spacing">HEV RNA (c/mL), Log</text>
<text transform="translate(230.8 747.45) scale(0.9 1)" font-size="14.0" textLength="113.56" lengthAdjust="spacing">Time (w eeks p.i.)</text>
<text transform="translate(172.2 548.85) scale(0.93 1)" font-size="13.2" textLength="237.2" lengthAdjust="spacing">HEV (gt 3e) strain 14-22707 isolation</text>
<line x1="282.7" y1="550.95" x2="391.7" y2="550.95" stroke="#222" stroke-width="1.15"/>
<text x="299" y="773.1" text-anchor="middle" font-size="19.3">(<tspan font-weight="bold">c</tspan>)</text>
<text transform="translate(522.4 571.9) scale(0.93 1)" font-size="13.4" textLength="137.2" lengthAdjust="spacing">Once split in w eek 51</text>
<line x1="522.4" y1="586" x2="552.8" y2="586" stroke="#111" stroke-width="1"/>
<circle cx="537.2" cy="586" r="2.65" fill="#000"/>
<text transform="translate(559.8 590.6) scale(0.93 1)" font-size="13.4" textLength="35.48" lengthAdjust="spacing">A549</text>
<line x1="522.4" y1="602.4" x2="552.8" y2="602.4" stroke="#111" stroke-width="1"/>
<rect x="534.7" y="599.9" width="5" height="5" fill="#000"/>
<text transform="translate(560.2 607) scale(0.93 1)" font-size="13.4" textLength="66.45" lengthAdjust="spacing">PLC/PRF/5</text>
<line x1="522.4" y1="618.5" x2="552.8" y2="618.5" stroke="#111" stroke-width="1"/>
<path d="M537.2 614.85L540.85 618.5L537.2 622.15L533.55 618.5Z" fill="#000"/>
<text transform="translate(560.4 623.1) scale(0.93 1)" font-size="13.4" textLength="112.04" lengthAdjust="spacing">HuH-7-Lunet BLR</text>
<text transform="translate(522.4 644.7) scale(0.93 1)" font-size="13.4" textLength="184.52" lengthAdjust="spacing">Regularly split as of w eek 51</text>
<line x1="522.4" y1="659.3" x2="552.8" y2="659.3" stroke="#111" stroke-width="1"/>
<circle cx="537.2" cy="659.3" r="2.2" fill="#fff" stroke="#000" stroke-width="0.9"/>
<text transform="translate(559.8 663.9) scale(0.93 1)" font-size="13.4" textLength="35.48" lengthAdjust="spacing">A549</text>
<line x1="522.4" y1="675.6" x2="552.8" y2="675.6" stroke="#111" stroke-width="1"/>
<rect x="535.15" y="673.55" width="4.1" height="4.1" fill="#fff" stroke="#000" stroke-width="0.9"/>
<text transform="translate(560.2 680.2) scale(0.93 1)" font-size="13.4" textLength="66.45" lengthAdjust="spacing">PLC/PRF/5</text>
<line x1="522.4" y1="691.7" x2="552.8" y2="691.7" stroke="#111" stroke-width="1"/>
<path d="M537.2 688.65L540.25 691.7L537.2 694.75L534.15 691.7Z" fill="#fff" stroke="#000" stroke-width="0.9"/>
<text transform="translate(560.4 696.3) scale(0.93 1)" font-size="13.4" textLength="112.04" lengthAdjust="spacing">HuH-7-Lunet BLR</text>
<line x1="59.2" y1="937.9" x2="505.6" y2="937.9" stroke="#d6d6d6" stroke-width="1"/>
<line x1="59.2" y1="924.2" x2="505.6" y2="924.2" stroke="#d6d6d6" stroke-width="1"/>
<line x1="59.2" y1="910.5" x2="505.6" y2="910.5" stroke="#d6d6d6" stroke-width="1"/>
<line x1="59.2" y1="896.8" x2="505.6" y2="896.8" stroke="#d6d6d6" stroke-width="1"/>
<line x1="59.2" y1="883.1" x2="505.6" y2="883.1" stroke="#d6d6d6" stroke-width="1"/>
<line x1="59.2" y1="869.4" x2="505.6" y2="869.4" stroke="#d6d6d6" stroke-width="1"/>
<line x1="59.2" y1="855.7" x2="505.6" y2="855.7" stroke="#d6d6d6" stroke-width="1"/>
<line x1="59.2" y1="842" x2="505.6" y2="842" stroke="#d6d6d6" stroke-width="1"/>
<line x1="59.2" y1="828.3" x2="505.6" y2="828.3" stroke="#d6d6d6" stroke-width="1"/>
<line x1="62.0" y1="959" x2="501.6" y2="959" stroke="#777" stroke-width="1" stroke-dasharray="1.2 3.1"/>
<path d="M58.5 824.4 V965.3 H505.6" fill="none" stroke="#111" stroke-width="1.3"/>
<line x1="54.2" y1="937.9" x2="58.5" y2="937.9" stroke="#111" stroke-width="1"/>
<line x1="54.2" y1="924.2" x2="58.5" y2="924.2" stroke="#111" stroke-width="1"/>
<line x1="54.2" y1="910.5" x2="58.5" y2="910.5" stroke="#111" stroke-width="1"/>
<line x1="54.2" y1="896.8" x2="58.5" y2="896.8" stroke="#111" stroke-width="1"/>
<line x1="54.2" y1="883.1" x2="58.5" y2="883.1" stroke="#111" stroke-width="1"/>
<line x1="54.2" y1="869.4" x2="58.5" y2="869.4" stroke="#111" stroke-width="1"/>
<line x1="54.2" y1="855.7" x2="58.5" y2="855.7" stroke="#111" stroke-width="1"/>
<line x1="54.2" y1="842" x2="58.5" y2="842" stroke="#111" stroke-width="1"/>
<line x1="54.2" y1="828.3" x2="58.5" y2="828.3" stroke="#111" stroke-width="1"/>
<line x1="54.2" y1="959" x2="58.5" y2="959" stroke="#111" stroke-width="1"/>
<text x="48.9" y="832.1" text-anchor="end" font-size="11.8">10</text>
<text x="48.9" y="859.5" text-anchor="end" font-size="11.8">8</text>
<text x="48.9" y="886.9" text-anchor="end" font-size="11.8">6</text>
<text x="48.9" y="914.3" text-anchor="end" font-size="11.8">4</text>
<text x="48.9" y="941.7" text-anchor="end" font-size="11.8">2</text>
<text x="48.9" y="962.8" text-anchor="end" font-size="11.8">n.d.</text>
<line x1="62.9" y1="965.3" x2="62.9" y2="969.5" stroke="#111" stroke-width="1"/>
<text x="62.9" y="986.6" text-anchor="middle" font-size="11.8">0</text>
<line x1="105.45" y1="965.3" x2="105.45" y2="969.5" stroke="#111" stroke-width="1"/>
<text x="105.45" y="986.6" text-anchor="middle" font-size="11.8">5</text>
<line x1="148" y1="965.3" x2="148" y2="969.5" stroke="#111" stroke-width="1"/>
<text x="148" y="986.6" text-anchor="middle" font-size="11.8">10</text>
<line x1="190.55" y1="965.3" x2="190.55" y2="969.5" stroke="#111" stroke-width="1"/>
<text x="190.55" y="986.6" text-anchor="middle" font-size="11.8">15</text>
<line x1="233.1" y1="965.3" x2="233.1" y2="969.5" stroke="#111" stroke-width="1"/>
<text x="233.1" y="986.6" text-anchor="middle" font-size="11.8">20</text>
<line x1="275.65" y1="965.3" x2="275.65" y2="969.5" stroke="#111" stroke-width="1"/>
<text x="275.65" y="986.6" text-anchor="middle" font-size="11.8">25</text>
<line x1="318.2" y1="965.3" x2="318.2" y2="969.5" stroke="#111" stroke-width="1"/>
<text x="318.2" y="986.6" text-anchor="middle" font-size="11.8">30</text>
<line x1="360.75" y1="965.3" x2="360.75" y2="969.5" stroke="#111" stroke-width="1"/>
<text x="360.75" y="986.6" text-anchor="middle" font-size="11.8">35</text>
<line x1="403.3" y1="965.3" x2="403.3" y2="969.5" stroke="#111" stroke-width="1"/>
<text x="403.3" y="986.6" text-anchor="middle" font-size="11.8">40</text>
<line x1="445.85" y1="965.3" x2="445.85" y2="969.5" stroke="#111" stroke-width="1"/>
<text x="445.85" y="986.6" text-anchor="middle" font-size="11.8">45</text>
<line x1="488.4" y1="965.3" x2="488.4" y2="969.5" stroke="#111" stroke-width="1"/>
<text x="488.4" y="986.6" text-anchor="middle" font-size="11.8">50</text>
<text transform="translate(20.8 959.25) rotate(-90) scale(0.9 1)" font-size="14.3" textLength="142.44" lengthAdjust="spacing">HEV RNA (c/mL), Log</text>
<text transform="translate(230.8 1010.15) scale(0.9 1)" font-size="14.0" textLength="113.56" lengthAdjust="spacing">Time (w eeks p.i.)</text>
<path d="M62.9 855.15 L63.75 874.19 L79.92 912.14 L96.94 924.61 L122.47 920.36 L156.51 911.05 L194.81 911.46 L258.63 894.74 L292.67 896.25 L326.71 899.81 L360.75 895.02 L394.79 888.44 L428.83 884.74 L462.87 880.36 L496.91 875.84" fill="none" stroke="#000" stroke-width="1.0" stroke-linejoin="round"/>
<path d="M62.9 851.83L66.05 857.37L59.75 857.37Z" fill="#000"/>
<path d="M63.75 870.87L66.9 876.41L60.6 876.41Z" fill="#000"/>
<path d="M79.92 908.82L83.07 914.36L76.77 914.36Z" fill="#000"/>
<path d="M96.94 921.28L100.09 926.83L93.79 926.83Z" fill="#000"/>
<path d="M122.47 917.04L125.62 922.58L119.32 922.58Z" fill="#000"/>
<path d="M156.51 907.72L159.66 913.27L153.36 913.27Z" fill="#000"/>
<path d="M194.81 908.13L197.96 913.68L191.66 913.68Z" fill="#000"/>
<path d="M258.63 891.42L261.78 896.96L255.48 896.96Z" fill="#000"/>
<path d="M292.67 892.93L295.82 898.47L289.52 898.47Z" fill="#000"/>
<path d="M326.71 896.49L329.86 902.03L323.56 902.03Z" fill="#000"/>
<path d="M360.75 891.69L363.9 897.24L357.6 897.24Z" fill="#000"/>
<path d="M394.79 885.12L397.94 890.66L391.64 890.66Z" fill="#000"/>
<path d="M428.83 881.42L431.98 886.96L425.68 886.96Z" fill="#000"/>
<path d="M462.87 877.03L466.02 882.58L459.72 882.58Z" fill="#000"/>
<path d="M496.91 872.51L500.06 878.06L493.76 878.06Z" fill="#000"/>
<path d="M62.9 855.15 L63.75 872.82 L79.92 905.57 L96.94 917.35 L122.47 920.77 L156.51 959 L194.81 959 L258.63 959 L292.67 959" fill="none" stroke="#000" stroke-width="1.0" stroke-linejoin="round"/>
<circle cx="62.9" cy="855.15" r="2.65" fill="#000"/>
<circle cx="63.75" cy="872.82" r="2.65" fill="#000"/>
<circle cx="79.92" cy="905.57" r="2.65" fill="#000"/>
<circle cx="96.94" cy="917.35" r="2.65" fill="#000"/>
<circle cx="122.47" cy="920.77" r="2.65" fill="#000"/>
<circle cx="156.51" cy="959" r="2.65" fill="#000"/>
<circle cx="194.81" cy="959" r="2.65" fill="#000"/>
<circle cx="258.63" cy="959" r="2.65" fill="#000"/>
<circle cx="292.67" cy="959" r="2.65" fill="#000"/>
<path d="M62.9 855.15 L63.75 874.88 L79.92 900.64 L96.94 892.69 L122.47 877.35 L156.51 859.95 L194.81 853.64 L258.63 852 L292.67 849.12 L326.71 842.41 L360.75 849.4 L394.79 848.16 L428.83 845.42 L462.87 848.16 L496.91 849.26" fill="none" stroke="#000" stroke-width="1.0" stroke-linejoin="round"/>
<path d="M62.9 851.55L66.5 855.15L62.9 858.75L59.3 855.15Z" fill="#000"/>
<path d="M63.75 871.28L67.35 874.88L63.75 878.48L60.15 874.88Z" fill="#000"/>
<path d="M79.92 897.04L83.52 900.64L79.92 904.24L76.32 900.64Z" fill="#000"/>
<path d="M96.94 889.09L100.54 892.69L96.94 896.29L93.34 892.69Z" fill="#000"/>
<path d="M122.47 873.75L126.07 877.35L122.47 880.95L118.87 877.35Z" fill="#000"/>
<path d="M156.51 856.35L160.11 859.95L156.51 863.55L152.91 859.95Z" fill="#000"/>
<path d="M194.81 850.04L198.41 853.64L194.81 857.25L191.21 853.64Z" fill="#000"/>
<path d="M258.63 848.4L262.23 852L258.63 855.6L255.03 852Z" fill="#000"/>
<path d="M292.67 845.52L296.27 849.12L292.67 852.72L289.07 849.12Z" fill="#000"/>
<path d="M326.71 838.81L330.31 842.41L326.71 846.01L323.11 842.41Z" fill="#000"/>
<path d="M360.75 845.8L364.35 849.4L360.75 853L357.15 849.4Z" fill="#000"/>
<path d="M394.79 844.56L398.39 848.16L394.79 851.76L391.19 848.16Z" fill="#000"/>
<path d="M428.83 841.82L432.43 845.42L428.83 849.02L425.23 845.42Z" fill="#000"/>
<path d="M462.87 844.56L466.47 848.16L462.87 851.76L459.27 848.16Z" fill="#000"/>
<path d="M496.91 845.66L500.51 849.26L496.91 852.86L493.31 849.26Z" fill="#000"/>
<path d="M62.9 855.15 L63.75 871.87 L79.92 895.16 L96.94 895.16 L122.47 869.26 L156.51 846.93 L194.81 846.52 L258.63 844.47 L292.67 841.86 L326.71 833.64 L360.75 839.26 L394.79 832.41 L428.83 839.53 L462.87 839.53 L496.91 846.52" fill="none" stroke="#000" stroke-width="1.0" stroke-linejoin="round"/>
<rect x="60.4" y="852.65" width="5" height="5" fill="#000"/>
<rect x="61.25" y="869.37" width="5" height="5" fill="#000"/>
<rect x="77.42" y="892.66" width="5" height="5" fill="#000"/>
<rect x="94.44" y="892.66" width="5" height="5" fill="#000"/>
<rect x="119.97" y="866.76" width="5" height="5" fill="#000"/>
<rect x="154.01" y="844.43" width="5" height="5" fill="#000"/>
<rect x="192.31" y="844.02" width="5" height="5" fill="#000"/>
<rect x="256.13" y="841.97" width="5" height="5" fill="#000"/>
<rect x="290.17" y="839.36" width="5" height="5" fill="#000"/>
<rect x="324.21" y="831.14" width="5" height="5" fill="#000"/>
<rect x="358.25" y="836.76" width="5" height="5" fill="#000"/>
<rect x="392.29" y="829.91" width="5" height="5" fill="#000"/>
<rect x="426.33" y="837.03" width="5" height="5" fill="#000"/>
<rect x="460.37" y="837.03" width="5" height="5" fill="#000"/>
<rect x="494.41" y="844.02" width="5" height="5" fill="#000"/>
<text transform="translate(161.8 811.55) scale(0.93 1)" font-size="13.2" textLength="259.35" lengthAdjust="spacing">HEV (gt 3f-like) strain 15-22016 isolation</text>
<line x1="293.8" y1="813.65" x2="402.1" y2="813.65" stroke="#222" stroke-width="1.15"/>
<text x="299" y="1035.8" text-anchor="middle" font-size="19.3">(<tspan font-weight="bold">d</tspan>)</text>
<text transform="translate(523 832.7) scale(0.93 1)" font-size="13.4" textLength="163.44" lengthAdjust="spacing">Cells w ere never split but</text>
<text transform="translate(523 849.1) scale(0.93 1)" font-size="13.4" textLength="218.92" lengthAdjust="spacing">continuously kept in a single T12.5</text>
<line x1="522.4" y1="864.5" x2="552.8" y2="864.5" stroke="#111" stroke-width="1"/>
<circle cx="537.2" cy="864.5" r="2.65" fill="#000"/>
<text transform="translate(559.8 869.1) scale(0.93 1)" font-size="13.4" textLength="35.48" lengthAdjust="spacing">A549</text>
<line x1="522.4" y1="880.5" x2="552.8" y2="880.5" stroke="#111" stroke-width="1"/>
<rect x="534.7" y="878" width="5" height="5" fill="#000"/>
<text transform="translate(560.2 885.1) scale(0.93 1)" font-size="13.4" textLength="66.45" lengthAdjust="spacing">PLC/PRF/5</text>
<line x1="522.4" y1="896.5" x2="552.8" y2="896.5" stroke="#111" stroke-width="1"/>
<path d="M537.2 893.07L540.45 898.79L533.95 898.79Z" fill="#000"/>
<text transform="translate(560 901.1) scale(0.93 1)" font-size="13.4" textLength="74.19" lengthAdjust="spacing">HepG2/C3A</text>
<line x1="522.4" y1="913.4" x2="552.8" y2="913.4" stroke="#111" stroke-width="1"/>
<path d="M537.2 909.75L540.85 913.4L537.2 917.05L533.55 913.4Z" fill="#000"/>
<text transform="translate(560.4 918) scale(0.93 1)" font-size="13.4" textLength="112.04" lengthAdjust="spacing">HuH-7-Lunet BLR</text>
</svg></body></html>
